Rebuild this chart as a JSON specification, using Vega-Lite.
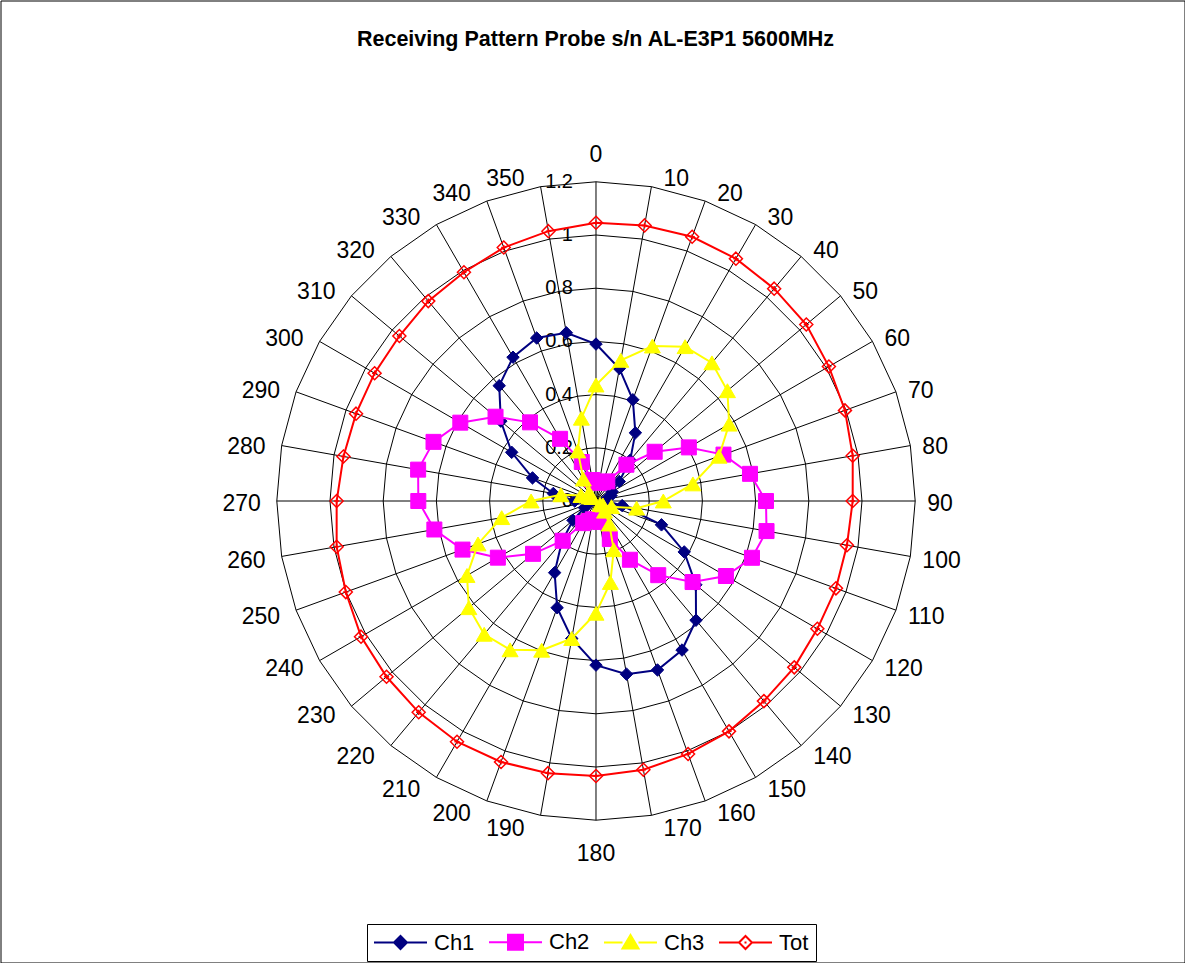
{
"$schema": "https://vega.github.io/schema/vega-lite/v6.json",
"width": 1184, "height": 962,
"autosize": {"type": "none"},
"padding": 0.5,
"background": "#ffffff",
"config": {"view": {"stroke": "#000000", "strokeWidth": 1}, "font": "Liberation Sans"},
"title": {"text": "Receiving Pattern Probe s/n AL-E3P1 5600MHz", "font": "Liberation Sans", "fontSize": 21.5, "fontWeight": "bold", "color": "#000000", "anchor": "middle", "frame": "group", "baseline": "alphabetic", "offset": -67, "dx": 3},
"datasets": {
"pattern": [
{"angle":0,"Ch1":0.59,"Ch2":0.07,"Ch3":0.436,"Tot":1.046},
{"angle":10,"Ch1":0.506,"Ch2":0.07,"Ch3":0.537,"Tot":1.052},
{"angle":20,"Ch1":0.405,"Ch2":0.075,"Ch3":0.62,"Tot":1.057},
{"angle":30,"Ch1":0.296,"Ch2":0.085,"Ch3":0.67,"Tot":1.052},
{"angle":40,"Ch1":0.2,"Ch2":0.178,"Ch3":0.678,"Tot":1.042},
{"angle":50,"Ch1":0.114,"Ch2":0.288,"Ch3":0.645,"Tot":1.032},
{"angle":60,"Ch1":0.07,"Ch2":0.403,"Ch3":0.578,"Tot":1.011},
{"angle":70,"Ch1":0.06,"Ch2":0.51,"Ch3":0.492,"Tot":0.996},
{"angle":80,"Ch1":0.04,"Ch2":0.588,"Ch3":0.37,"Tot":0.98},
{"angle":90,"Ch1":0.04,"Ch2":0.639,"Ch3":0.253,"Tot":0.965},
{"angle":100,"Ch1":0.1,"Ch2":0.651,"Ch3":0.155,"Tot":0.958},
{"angle":110,"Ch1":0.262,"Ch2":0.624,"Ch3":0.062,"Tot":0.96},
{"angle":120,"Ch1":0.383,"Ch2":0.564,"Ch3":0.03,"Tot":0.961},
{"angle":130,"Ch1":0.49,"Ch2":0.474,"Ch3":0.02,"Tot":0.973},
{"angle":140,"Ch1":0.585,"Ch2":0.364,"Ch3":0.05,"Tot":0.982},
{"angle":150,"Ch1":0.647,"Ch2":0.255,"Ch3":0.1,"Tot":1.0},
{"angle":160,"Ch1":0.676,"Ch2":0.152,"Ch3":0.195,"Tot":1.012},
{"angle":170,"Ch1":0.661,"Ch2":0.08,"Ch3":0.311,"Tot":1.026},
{"angle":180,"Ch1":0.617,"Ch2":0.07,"Ch3":0.422,"Tot":1.034},
{"angle":190,"Ch1":0.525,"Ch2":0.07,"Ch3":0.525,"Tot":1.039},
{"angle":200,"Ch1":0.427,"Ch2":0.08,"Ch3":0.597,"Tot":1.044},
{"angle":210,"Ch1":0.311,"Ch2":0.096,"Ch3":0.646,"Tot":1.045},
{"angle":220,"Ch1":0.2,"Ch2":0.195,"Ch3":0.654,"Tot":1.037},
{"angle":230,"Ch1":0.113,"Ch2":0.309,"Ch3":0.624,"Tot":1.028},
{"angle":240,"Ch1":0.05,"Ch2":0.426,"Ch3":0.56,"Tot":1.02},
{"angle":250,"Ch1":0.03,"Ch2":0.534,"Ch3":0.472,"Tot":1.001},
{"angle":260,"Ch1":0.03,"Ch2":0.617,"Ch3":0.36,"Tot":0.99},
{"angle":270,"Ch1":0.08,"Ch2":0.668,"Ch3":0.244,"Tot":0.975},
{"angle":280,"Ch1":0.163,"Ch2":0.679,"Ch3":0.134,"Tot":0.964},
{"angle":290,"Ch1":0.254,"Ch2":0.65,"Ch3":0.06,"Tot":0.96},
{"angle":300,"Ch1":0.366,"Ch2":0.589,"Ch3":0.03,"Tot":0.961},
{"angle":310,"Ch1":0.467,"Ch2":0.493,"Ch3":0.02,"Tot":0.965},
{"angle":320,"Ch1":0.566,"Ch2":0.386,"Ch3":0.04,"Tot":0.981},
{"angle":330,"Ch1":0.624,"Ch2":0.27,"Ch3":0.095,"Tot":0.993},
{"angle":340,"Ch1":0.652,"Ch2":0.156,"Ch3":0.2,"Tot":1.014},
{"angle":350,"Ch1":0.642,"Ch2":0.08,"Ch3":0.316,"Tot":1.03}
],
"rings": [
{"r":0.2,"angles":[0,10,20,30,40,50,60,70,80,90,100,110,120,130,140,150,160,170,180,190,200,210,220,230,240,250,260,270,280,290,300,310,320,330,340,350,360]},
{"r":0.4,"angles":[0,10,20,30,40,50,60,70,80,90,100,110,120,130,140,150,160,170,180,190,200,210,220,230,240,250,260,270,280,290,300,310,320,330,340,350,360]},
{"r":0.6,"angles":[0,10,20,30,40,50,60,70,80,90,100,110,120,130,140,150,160,170,180,190,200,210,220,230,240,250,260,270,280,290,300,310,320,330,340,350,360]},
{"r":0.8,"angles":[0,10,20,30,40,50,60,70,80,90,100,110,120,130,140,150,160,170,180,190,200,210,220,230,240,250,260,270,280,290,300,310,320,330,340,350,360]},
{"r":1.0,"angles":[0,10,20,30,40,50,60,70,80,90,100,110,120,130,140,150,160,170,180,190,200,210,220,230,240,250,260,270,280,290,300,310,320,330,340,350,360]},
{"r":1.2,"angles":[0,10,20,30,40,50,60,70,80,90,100,110,120,130,140,150,160,170,180,190,200,210,220,230,240,250,260,270,280,290,300,310,320,330,340,350,360]}
],
"spokes": [
{"a":0},{"a":10},{"a":20},{"a":30},{"a":40},{"a":50},{"a":60},{"a":70},{"a":80},{"a":90},{"a":100},{"a":110},{"a":120},{"a":130},{"a":140},{"a":150},{"a":160},{"a":170},{"a":180},{"a":190},{"a":200},{"a":210},{"a":220},{"a":230},{"a":240},{"a":250},{"a":260},{"a":270},{"a":280},{"a":290},{"a":300},{"a":310},{"a":320},{"a":330},{"a":340},{"a":350}
],
"ticks": [{"r":0},{"r":0.2},{"r":0.4},{"r":0.6},{"r":0.8},{"r":1},{"r":1.2}]
},
"layer": [
{
"data": {"name": "rings"},
"transform": [
{"flatten": ["angles"], "as": ["a"]},
{"calculate": "datum.r*sin(datum.a*PI/180)", "as": "px"},
{"calculate": "datum.r*cos(datum.a*PI/180)", "as": "py"}
],
"mark": {"type": "line", "stroke": "#000000", "strokeWidth": 1},
"encoding": {
"x": {"field": "px", "type": "quantitative", "scale": {"domain": [-2.23872, 2.21241], "nice": false, "zero": false}, "axis": null},
"y": {"field": "py", "type": "quantitative", "scale": {"domain": [-1.73496, 1.88158], "nice": false, "zero": false}, "axis": null},
"detail": {"field": "r", "type": "nominal"},
"order": {"field": "a", "type": "quantitative"}
}
},
{
"data": {"name": "spokes"},
"transform": [
{"calculate": "0", "as": "z"},
{"calculate": "1.2*sin(datum.a*PI/180)", "as": "ex"},
{"calculate": "1.2*cos(datum.a*PI/180)", "as": "ey"}
],
"mark": {"type": "rule", "color": "#000000", "strokeWidth": 1},
"encoding": {
"x": {"field": "z", "type": "quantitative", "scale": {"domain": [-2.23872, 2.21241], "nice": false, "zero": false}, "axis": null},
"y": {"field": "z", "type": "quantitative", "scale": {"domain": [-1.73496, 1.88158], "nice": false, "zero": false}, "axis": null},
"x2": {"field": "ex"},
"y2": {"field": "ey"}
}
},
{
"data": {"name": "ticks"},
"transform": [{"calculate": "0", "as": "z"}],
"mark": {"type": "text", "align": "right", "baseline": "middle", "dx": -23, "fontSize": 20, "font": "Liberation Sans", "color": "#000000"},
"encoding": {
"x": {"field": "z", "type": "quantitative", "scale": {"domain": [-2.23872, 2.21241], "nice": false, "zero": false}, "axis": null},
"y": {"field": "r", "type": "quantitative", "scale": {"domain": [-1.73496, 1.88158], "nice": false, "zero": false}, "axis": null},
"text": {"field": "r", "type": "quantitative", "format": "~g"}
}
},
{
"data": {"name": "spokes"},
"transform": [
{"calculate": "sin(datum.a*PI/180)", "as": "s"},
{"calculate": "cos(datum.a*PI/180)", "as": "c"},
{"calculate": "abs(datum.s) < 0.01 ? 0 : (datum.s > 0 ? 1 : -1)", "as": "side"},
{"calculate": "1.2*datum.s + (datum.side > 0 ? 12 : (datum.side < 0 ? -16 : 0))/266", "as": "lx"},
{"calculate": "1.2*datum.c + ((datum.side === 0 ? (datum.c > 0 ? 30 : -31) : 11*datum.c) - 3)/266", "as": "ly"}
],
"layer": [
{
"transform": [{"filter": "datum.side === 1"}],
"mark": {"type": "text", "align": "left", "baseline": "middle", "fontSize": 23, "font": "Liberation Sans", "color": "#000000"},
"encoding": {
"x": {"field": "lx", "type": "quantitative", "scale": {"domain": [-2.23872, 2.21241], "nice": false, "zero": false}, "axis": null},
"y": {"field": "ly", "type": "quantitative", "scale": {"domain": [-1.73496, 1.88158], "nice": false, "zero": false}, "axis": null},
"text": {"field": "a", "type": "quantitative", "format": "d"}
}
},
{
"transform": [{"filter": "datum.side === -1"}],
"mark": {"type": "text", "align": "right", "baseline": "middle", "fontSize": 23, "font": "Liberation Sans", "color": "#000000"},
"encoding": {
"x": {"field": "lx", "type": "quantitative", "scale": {"domain": [-2.23872, 2.21241], "nice": false, "zero": false}, "axis": null},
"y": {"field": "ly", "type": "quantitative", "scale": {"domain": [-1.73496, 1.88158], "nice": false, "zero": false}, "axis": null},
"text": {"field": "a", "type": "quantitative", "format": "d"}
}
},
{
"transform": [{"filter": "datum.side === 0"}],
"mark": {"type": "text", "align": "center", "baseline": "middle", "fontSize": 23, "font": "Liberation Sans", "color": "#000000"},
"encoding": {
"x": {"field": "lx", "type": "quantitative", "scale": {"domain": [-2.23872, 2.21241], "nice": false, "zero": false}, "axis": null},
"y": {"field": "ly", "type": "quantitative", "scale": {"domain": [-1.73496, 1.88158], "nice": false, "zero": false}, "axis": null},
"text": {"field": "a", "type": "quantitative", "format": "d"}
}
}
]
},
{
"data": {"name": "pattern"},
"transform": [
{"fold": ["Ch1", "Ch2", "Ch3", "Tot"], "as": ["series", "value"]},
{"calculate": "datum.value*sin(datum.angle*PI/180)", "as": "px"},
{"calculate": "datum.value*cos(datum.angle*PI/180)", "as": "py"}
],
"layer": [
{
"transform": [{"filter": "datum.series === 'Ch1'"}],
"mark": {"type": "line", "strokeWidth": 2, "interpolate": "linear-closed"},
"encoding": {
"x": {"field": "px", "type": "quantitative", "scale": {"domain": [-2.23872, 2.21241], "nice": false, "zero": false}, "axis": null},
"y": {"field": "py", "type": "quantitative", "scale": {"domain": [-1.73496, 1.88158], "nice": false, "zero": false}, "axis": null},
"order": {"field": "angle", "type": "quantitative"},
"color": {"field": "series", "type": "nominal",
"scale": {"domain": ["Ch1", "Ch2", "Ch3", "Tot"], "range": ["#000080", "#FF00FF", "#FFFF00", "#FF0000"]},
"legend": {"orient": "none", "legendX": 366.5, "legendY": 923.5, "direction": "horizontal", "title": null,
"symbolSize": 400, "symbolStrokeWidth": 2, "symbolOffset": 15.5, "labelOffset": 22.5, "columnPadding": 10,
"labelFontSize": 22, "labelFont": "Liberation Sans", "labelColor": "#000000", "labelBaseline": "middle",
"strokeColor": "#000000", "padding": 7,
"symbolType": "M-2.65,0L-0.65,0M0.65,0L2.65,0M-0.65,0L0,-0.65L0.65,0L0,0.65Z",
"encode": {"symbols": {"update": {
"shape": {"signal": "datum.value === 'Ch1' ? 'M-2.65,0L-0.65,0M0.65,0L2.65,0M-0.65,0L0,-0.65L0.65,0L0,0.65Z' : datum.value === 'Ch2' ? 'M-2.65,0L-0.75,0M0.75,0L2.65,0M-0.75,-0.75L0.75,-0.75L0.75,0.75L-0.75,0.75Z' : datum.value === 'Ch3' ? 'M-2.65,0L-0.8,0M0.8,0L2.65,0M0,-0.75L0.8,0.6L-0.8,0.6Z' : 'M-2.65,0L-0.65,0M0.65,0L2.65,0M-0.65,0L0,-0.65L0.65,0L0,0.65ZM-0.1,0L0.1,0'"},
"fill": {"signal": "datum.value === 'Ch1' ? '#000080' : datum.value === 'Ch2' ? '#FF00FF' : datum.value === 'Ch3' ? '#FFFF00' : '#FFFFFF'"},
"fillOpacity": {"value": 1},
"strokeWidth": {"value": 2}
}}}
}
}
}
},
{
"transform": [{"filter": "datum.series === 'Ch1'"}],
"mark": {"type": "point", "shape": "diamond", "size": 156, "filled": true, "fill": "#000080", "stroke": "#000080", "strokeWidth": 1, "opacity": 1},
"encoding": {
"x": {"field": "px", "type": "quantitative", "scale": {"domain": [-2.23872, 2.21241], "nice": false, "zero": false}, "axis": null},
"y": {"field": "py", "type": "quantitative", "scale": {"domain": [-1.73496, 1.88158], "nice": false, "zero": false}, "axis": null}
}
},
{
"transform": [{"filter": "datum.series === 'Ch2'"}],
"mark": {"type": "line", "strokeWidth": 2, "interpolate": "linear-closed"},
"encoding": {
"x": {"field": "px", "type": "quantitative", "scale": {"domain": [-2.23872, 2.21241], "nice": false, "zero": false}, "axis": null},
"y": {"field": "py", "type": "quantitative", "scale": {"domain": [-1.73496, 1.88158], "nice": false, "zero": false}, "axis": null},
"order": {"field": "angle", "type": "quantitative"},
"color": {"field": "series", "type": "nominal", "scale": {"domain": ["Ch1", "Ch2", "Ch3", "Tot"], "range": ["#000080", "#FF00FF", "#FFFF00", "#FF0000"]}}
}
},
{
"transform": [{"filter": "datum.series === 'Ch2'"}],
"mark": {"type": "point", "shape": "square", "size": 225, "filled": true, "fill": "#FF00FF", "stroke": "#FF00FF", "strokeWidth": 1, "opacity": 1},
"encoding": {
"x": {"field": "px", "type": "quantitative", "scale": {"domain": [-2.23872, 2.21241], "nice": false, "zero": false}, "axis": null},
"y": {"field": "py", "type": "quantitative", "scale": {"domain": [-1.73496, 1.88158], "nice": false, "zero": false}, "axis": null}
}
},
{
"transform": [{"filter": "datum.series === 'Ch3'"}],
"mark": {"type": "line", "strokeWidth": 2, "interpolate": "linear-closed"},
"encoding": {
"x": {"field": "px", "type": "quantitative", "scale": {"domain": [-2.23872, 2.21241], "nice": false, "zero": false}, "axis": null},
"y": {"field": "py", "type": "quantitative", "scale": {"domain": [-1.73496, 1.88158], "nice": false, "zero": false}, "axis": null},
"order": {"field": "angle", "type": "quantitative"},
"color": {"field": "series", "type": "nominal", "scale": {"domain": ["Ch1", "Ch2", "Ch3", "Tot"], "range": ["#000080", "#FF00FF", "#FFFF00", "#FF0000"]}}
}
},
{
"transform": [{"filter": "datum.series === 'Ch3'"}],
"mark": {"type": "point", "shape": "triangle-up", "size": 256, "filled": true, "fill": "#FFFF00", "stroke": "#FFFF00", "strokeWidth": 1, "opacity": 1},
"encoding": {
"x": {"field": "px", "type": "quantitative", "scale": {"domain": [-2.23872, 2.21241], "nice": false, "zero": false}, "axis": null},
"y": {"field": "py", "type": "quantitative", "scale": {"domain": [-1.73496, 1.88158], "nice": false, "zero": false}, "axis": null}
}
},
{
"transform": [{"filter": "datum.series === 'Tot'"}],
"mark": {"type": "line", "strokeWidth": 2, "interpolate": "linear-closed"},
"encoding": {
"x": {"field": "px", "type": "quantitative", "scale": {"domain": [-2.23872, 2.21241], "nice": false, "zero": false}, "axis": null},
"y": {"field": "py", "type": "quantitative", "scale": {"domain": [-1.73496, 1.88158], "nice": false, "zero": false}, "axis": null},
"order": {"field": "angle", "type": "quantitative"},
"color": {"field": "series", "type": "nominal", "scale": {"domain": ["Ch1", "Ch2", "Ch3", "Tot"], "range": ["#000080", "#FF00FF", "#FFFF00", "#FF0000"]}}
}
},
{
"transform": [{"filter": "datum.series === 'Tot'"}],
"mark": {"type": "point", "shape": "M0,-1L1,0L0,1L-1,0ZM0,-0.4L0,0.4M-0.4,0L0.4,0", "size": 169, "filled": false, "stroke": "#FF0000", "strokeWidth": 1.5, "opacity": 1},
"encoding": {
"x": {"field": "px", "type": "quantitative", "scale": {"domain": [-2.23872, 2.21241], "nice": false, "zero": false}, "axis": null},
"y": {"field": "py", "type": "quantitative", "scale": {"domain": [-1.73496, 1.88158], "nice": false, "zero": false}, "axis": null}
}
}
]
}
]
}
